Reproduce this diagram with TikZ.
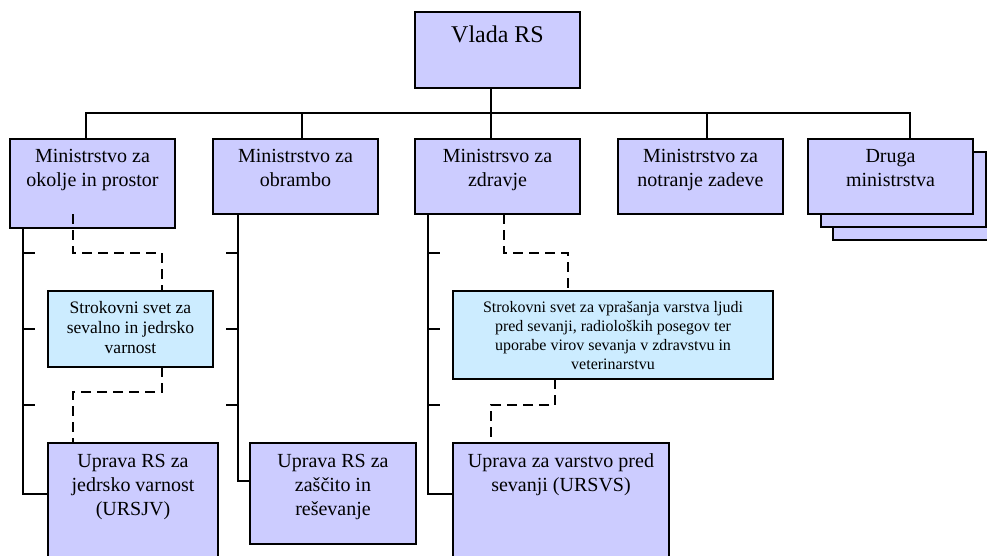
\documentclass[tikz,border=0pt]{standalone}
\usepackage{fontspec}
\setmainfont{Liberation Serif}
\definecolor{lav}{RGB}{204,204,255}
\definecolor{lblue}{RGB}{204,236,255}
\begin{document}
\begin{tikzpicture}[x=1pt,y=-1pt,
  box/.style={draw=black, line width=2pt, fill=lav, anchor=north west, inner sep=0pt, outer sep=0pt},
  bluebox/.style={box, fill=lblue},
  txt/.style={anchor=north, align=center, inner sep=0pt, font=\fontsize{20}{24}\selectfont},
  smalltxt/.style={txt, font=\fontsize{17.5}{20}\selectfont},
  tinytxt/.style={txt, font=\fontsize{16}{19}\selectfont},
  conn/.style={line width=2.2pt},
  dsh/.style={line width=2.2pt, dash pattern=on 10pt off 6pt},
]
\useasboundingbox (0,0) rectangle (987,555);
\clip (0,0) rectangle (987,555);
\fill[white] (0,0) rectangle (987,555);

% top
\node[box, minimum width=165pt, minimum height=76pt] (vlada) at (415,12) {};
\node[txt, font=\fontsize{24}{28}\selectfont] (vladat) at ([yshift=-13.6pt]vlada.north) {Vlada RS};

% ministries
\node[box, minimum width=165pt, minimum height=89pt] (m1) at (10,139) {};
\node[box, minimum width=165pt, minimum height=75pt] (m2) at (213,139) {};
\node[box, minimum width=165pt, minimum height=75pt] (m3) at (415,139) {};
\node[box, minimum width=165pt, minimum height=75pt] (m4) at (618,139) {};
\node[box, minimum width=165pt, minimum height=75pt] (m5c) at (833,165) {};
\node[box, minimum width=165pt, minimum height=75pt] (m5b) at (821,152) {};
\node[box, minimum width=165pt, minimum height=75pt] (m5) at (808,139) {};

\node[txt] (m1t) at ([yshift=-10.4pt]m1.north) {Ministrstvo za\\okolje in prostor};
\node[txt] (m2t) at ([yshift=-10.4pt]m2.north) {Ministrstvo za\\obrambo};
\node[txt] (m3t) at ([yshift=-10.4pt]m3.north) {Ministrsvo za\\zdravje};
\node[txt] (m4t) at ([yshift=-10.4pt]m4.north) {Ministrstvo za\\notranje zadeve};
\node[txt] (m5t) at ([yshift=-10.4pt]m5.north) {Druga\\ministrstva};

% councils
\node[bluebox, minimum width=165pt, minimum height=76pt] (s1) at (48,291) {};
\node[smalltxt] (s1t) at ([yshift=-10.3pt]s1.north) {Strokovni svet za\\sevalno in jedrsko\\varnost};
\node[bluebox, minimum width=320pt, minimum height=88pt] (s2) at (453,291) {};
\node[tinytxt] (s2t) at ([yshift=-10.4pt]s2.north) {Strokovni svet za vprašanja varstva ljudi\\pred sevanji, radioloških posegov ter\\uporabe virov sevanja v zdravstvu in\\veterinarstvu};

% administrations
\node[box, minimum width=170pt, minimum height=130pt] (u1) at (48,443) {};
\node[box, minimum width=166pt, minimum height=101pt] (u2) at (250,443) {};
\node[box, minimum width=216pt, minimum height=130pt] (u3) at (453,443) {};
\node[txt] (u1t) at ([yshift=-10.7pt]u1.north) {Uprava RS za\\jedrsko varnost\\(URSJV)};
\node[txt] (u2t) at ([yshift=-10.7pt]u2.north) {Uprava RS za\\zaščito in\\reševanje};
\node[txt] (u3t) at ([yshift=-10.7pt]u3.north) {Uprava za varstvo pred\\sevanji (URSVS)};

% bus
\coordinate (stem) at (491,113);
\coordinate (bL) at (86,113);
\coordinate (bR) at (910,113);
\coordinate (d2) at (302,113);
\coordinate (d4) at (707,113);
\draw[conn] (vlada.south -| stem) -- (stem);
\draw[conn] (bL |- m1.north) -- (bL) -- (bR) -- (bR |- m5.north);
\draw[conn] (d2) -- (d2 |- m2.north);
\draw[conn] (stem) -- (stem |- m3.north);
\draw[conn] (d4) -- (d4 |- m4.north);

% vertical spines
\coordinate (v1) at (23,494);
\coordinate (v2) at (238,481);
\coordinate (v3) at (428,494);
\draw[conn] (v1 |- m1.south) -- (v1) -- (v1 -| u1.west);
\draw[conn] (v2 |- m2.south) -- (v2) -- (v2 -| u2.west);
\draw[conn] (v3 |- m3.south) -- (v3) -- (v3 -| u3.west);

% ticks
\foreach \yy in {253,329,405}{
  \draw[conn] (23,\yy) -- (35,\yy);
  \draw[conn] (226,\yy) -- (238,\yy);
  \draw[conn] (428,\yy) -- (440,\yy);
}

% dashed links
\coordinate (a1) at (73,214);
\coordinate (a2) at (162,253);
\coordinate (a3) at (73,392);
\draw[dsh] (a1) |- (a2) -- (a2 |- s1.north);
\draw[dsh] (a2 |- s1.south) |- (a3) -- (a3 |- u1.north);

\coordinate (c1) at (504,214);
\coordinate (c2) at (568,253);
\coordinate (c3) at (555,405);
\coordinate (c4) at (491,405);
\draw[dsh] (c1) |- (c2) -- (c2 |- s2.north);
\draw[dsh] (c3 |- s2.south) -- (c3) -- (c4) -- (c4 |- u3.north);
\end{tikzpicture}
\end{document}
